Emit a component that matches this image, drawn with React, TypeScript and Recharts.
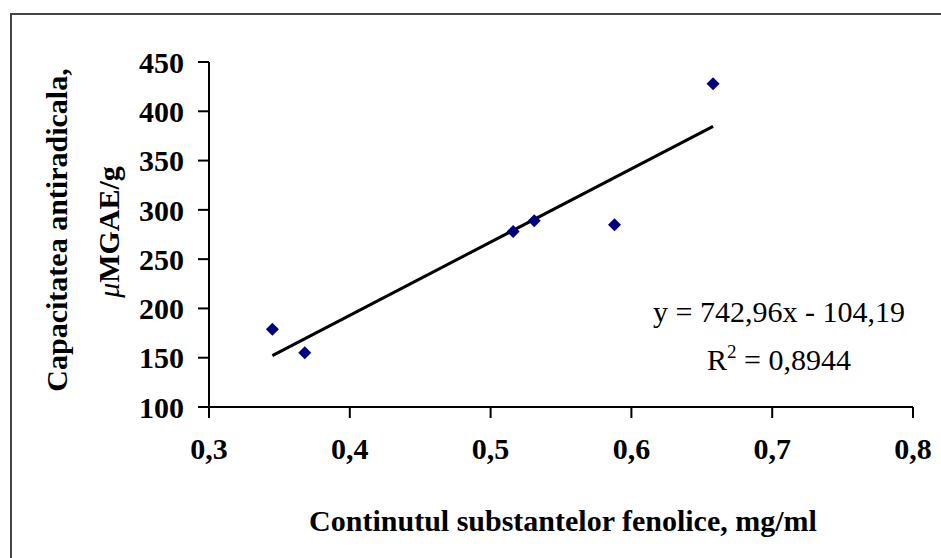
import { ScatterChart, Scatter, XAxis, YAxis, Label } from 'recharts';

// measured samples: phenolic content (mg/ml) vs antiradical capacity (µMGAE/g)
const phenolics = [0.345, 0.368, 0.516, 0.531, 0.588, 0.658];
const capacity = [179, 155, 278, 289, 285, 428];

const xTicks = [0.3, 0.4, 0.5, 0.6, 0.7, 0.8];
const yTicks = [100, 150, 200, 250, 300, 350, 400, 450];

// linear trendline as printed on the chart
const slope = 742.96;
const intercept = -104.19;
const rSquared = '0,8944';

const FONT = '"Liberation Serif", "Times New Roman", serif';

const points = phenolics.map((x, i) => ({ x, y: capacity[i] }));
const trendX = [Math.min(...phenolics), Math.max(...phenolics)];
const trend = trendX.map(x => ({ x, y: slope * x + intercept }));

const comma = (v: number) => String(v).replace('.', ',');

const Diamond = (props: any) => {
    const { cx, cy } = props;
    const r = 6.5;
    return <polygon points={`${cx},${cy - r} ${cx + r},${cy} ${cx},${cy + r} ${cx - r},${cy}`} fill="#000080" />;
};

const NoDot = () => <g />;

const YTitle = () => (
    <g fontFamily={FONT} fontWeight="bold" fontSize={30} fill="#000">
        <text transform="translate(67,230) rotate(-90)" textAnchor="middle">Capacitatea antiradicala,</text>
        <text transform="translate(119,232) rotate(-90)" textAnchor="middle">
            <tspan fontStyle="italic" fontWeight="normal">μ</tspan>MGAE/g
        </text>
    </g>
);

const XTitle = () => (
    <text x={563} y={531} textAnchor="middle" fontFamily={FONT} fontWeight="bold" fontSize={30} fill="#000">
        Continutul substantelor fenolice, mg/ml
    </text>
);

export default function App() {
    const axisStyle = { stroke: '#000', strokeWidth: 2 };
    return (
        <div style={{ position: 'absolute', left: 0, top: 0, width: 941, height: 558, overflow: 'hidden', background: '#fff' }}>
            <div style={{ position: 'absolute', left: 10, top: 13, width: 1000, height: 700, borderTop: '2px solid #444', borderLeft: '2px solid #444' }} />
            <ScatterChart width={941} height={558} margin={{ top: 62, right: 28, bottom: 51, left: 0 }}>
                <XAxis
                    type="number"
                    dataKey="x"
                    domain={[0.3, 0.8]}
                    ticks={xTicks}
                    tickFormatter={comma}
                    height={100}
                    axisLine={axisStyle}
                    tickLine={axisStyle}
                    tickSize={11}
                    tickMargin={20}
                    tick={{ fontFamily: FONT, fontWeight: 'bold', fontSize: 30, fill: '#000' }}
                >
                    <Label content={XTitle} />
                </XAxis>
                <YAxis
                    type="number"
                    dataKey="y"
                    domain={[100, 450]}
                    ticks={yTicks}
                    width={209}
                    axisLine={axisStyle}
                    tickLine={axisStyle}
                    tickSize={11}
                    tickMargin={14}
                    tick={{ fontFamily: FONT, fontWeight: 'bold', fontSize: 30, fill: '#000' }}
                >
                    <Label content={YTitle} />
                </YAxis>
                <Scatter data={trend} line={{ stroke: '#000', strokeWidth: 3 }} shape={NoDot} isAnimationActive={false} />
                <Scatter data={points} shape={Diamond} isAnimationActive={false} />
            </ScatterChart>
            <svg width={941} height={558} style={{ position: 'absolute', left: 0, top: 0, pointerEvents: 'none' }}>
                <g fontFamily={FONT} fontSize={30} fill="#000" textAnchor="middle">
                    <text x={779} y={322}>y = {comma(slope)}x - {comma(-intercept)}</text>
                    <text x={779} y={370}>
                        R<tspan dy={-12} fontSize={19}>2</tspan><tspan dy={12}> = {rSquared}</tspan>
                    </text>
                </g>
            </svg>
        </div>
    );
}
